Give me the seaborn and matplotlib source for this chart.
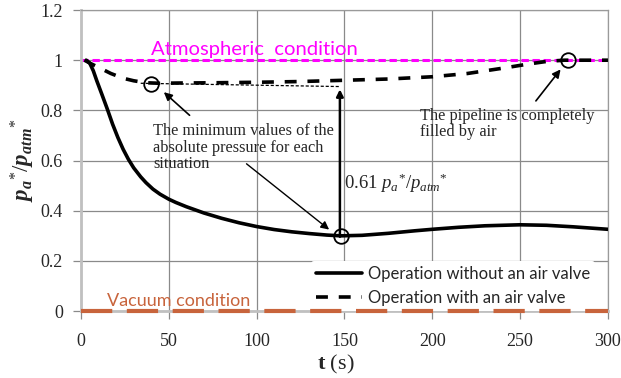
import matplotlib
matplotlib.use("Agg")
import matplotlib.pyplot as plt
import seaborn as sns
import numpy as np
import pandas as pd

# Data
t_no_valve = [3, 5, 7, 9, 12, 15, 18, 21, 24, 27, 30, 34, 37, 41, 45, 50, 54, 60, 70, 80, 90, 100,
              110, 120, 130, 140, 148, 160, 175, 190, 200, 215, 230, 250, 265, 280, 300]
p_no_valve = [1.0, 0.988, 0.958, 0.918, 0.862, 0.805, 0.745, 0.692, 0.645, 0.605, 0.571, 0.535,
              0.512, 0.486, 0.466, 0.446, 0.433, 0.416, 0.391, 0.370, 0.352, 0.337, 0.325, 0.316,
              0.309, 0.303, 0.300, 0.302, 0.31, 0.32, 0.326, 0.334, 0.34, 0.344, 0.342, 0.336, 0.326]
t_valve = [2, 6, 11, 17, 24, 30, 37, 45, 55, 75, 100, 125, 150, 175, 200, 220, 240, 255, 265, 275, 300]
p_valve = [1.0, 0.985, 0.968, 0.947, 0.928, 0.918, 0.91, 0.908, 0.909, 0.91, 0.912, 0.915, 0.92,
           0.925, 0.934, 0.947, 0.968, 0.985, 0.995, 1.0, 1.0]
x_ticks = [0, 50, 100, 150, 200, 250, 300]
y_ticks = [0, 0.2, 0.4, 0.6, 0.8, 1.0, 1.2]
y_tick_labels = ["0", "0.2", "0.4", "0.6", "0.8", "1", "1.2"]
atm_level = 1.0
vac_level = 0.0
min_valve = (40, 0.907)
min_no_valve = (148, 0.300)
filled_point = (277, 1.0)

sns.set_theme(style="white")
plt.rcParams['font.family'] = ['Liberation Serif', 'DejaVu Serif']
plt.rcParams['mathtext.fontset'] = 'custom'
plt.rcParams['mathtext.rm'] = 'Liberation Serif'
plt.rcParams['mathtext.it'] = 'Liberation Serif:italic'
plt.rcParams['mathtext.bf'] = 'Liberation Serif:italic:bold'
plt.rcParams['mathtext.sf'] = 'Liberation Serif:bold'

fig = plt.figure(figsize=(6.21, 3.78), dpi=100)
ax = fig.add_axes([0.1304, 0.177, 0.8486, 0.7965])

df1 = pd.DataFrame({"t": t_no_valve, "p": p_no_valve})
df2 = pd.DataFrame({"t": t_valve, "p": p_valve})

ax.axhline(atm_level, color="#FF00FF", lw=2.2, ls=(0, (2.4, 1.2)), zorder=2)
ax.axhline(vac_level, color="#C8643C", lw=3, ls=(0, (7.5, 3.5)), zorder=6, clip_on=False)

sns.lineplot(data=df1, x="t", y="p", ax=ax, color="black", lw=2.6,
             label="Operation without an air valve", zorder=4)
sns.lineplot(data=df2, x="t", y="p", ax=ax, color="black", lw=2.6,
             ls=(0, (3.3, 3.0)), label="Operation with an air valve", zorder=4)

ax.set_xlim(0, 300)
ax.set_ylim(0, 1.2)
ax.set_xticks(x_ticks)
ax.set_yticks(y_ticks)
ax.set_yticklabels(y_tick_labels)
ax.grid(True, color="#8a8a8a", lw=0.9)
ax.tick_params(axis="both", labelsize=13, length=6, width=0.9, color="#8a8a8a",
               direction="out", left=True, bottom=True)
ax.tick_params(axis="x", pad=10)
ax.tick_params(axis="y", pad=7)
for s in ["top", "right"]:
    ax.spines[s].set_color("#9a9a9a")
    ax.spines[s].set_linewidth(0.9)
for s in ["left", "bottom"]:
    ax.spines[s].set_color("#c0c0c0")
    ax.spines[s].set_linewidth(2)

ax.set_xlabel(r"$\mathsf{t}$ (s)", fontsize=16)
ax.xaxis.set_label_coords(0.484, -0.14)
ax.set_ylabel(r"$\mathbf{p_a}^{*}/\mathbf{p_{atm}}^{*}$", fontsize=16.5)
ax.yaxis.set_label_coords(-0.084, 0.5)

# Text labels for reference lines
ax.text(40, 1.0 + 0.02, "Atmospheric  condition", color="#FF00FF", fontsize=14.6,
        family=["Lato", "DejaVu Sans"], va="baseline", ha="left")
ax.text(15, 0.02, "Vacuum condition", color="#C8643C", fontsize=13,
        family=["Lato", "DejaVu Sans"], va="baseline", ha="left")

# Circles
for (cx, cy) in [min_valve, min_no_valve, filled_point]:
    ax.plot(cx, cy, marker="o", ms=10.5, mfc="none", mec="black", mew=1.3, zorder=6)

# Thin dashed line and vertical arrow
ax.plot([34, 147], [0.908, 0.895], color="black", lw=0.9, ls=(0, (2.5, 1.5)), zorder=5)
ax.annotate("", xy=(147.4, 0.895), xytext=(147.4, 0.285),
            arrowprops=dict(arrowstyle="-|>", color="black", lw=1.8, mutation_scale=10), zorder=5)
ax.text(150, 0.51, r"0.61 $p_a$$^{*}$/$p_{atm}$$^{*}$", fontsize=13.5, va="center", ha="left")

ax.text(41, 0.75, "The minimum values of the\nabsolute pressure for each\nsituation",
        fontsize=11.8, va="top", ha="left", linespacing=1.05)
ax.annotate("", xy=(46, 0.88), xytext=(63, 0.773),
            arrowprops=dict(arrowstyle="-|>", color="black", lw=1.2, mutation_scale=12))
ax.annotate("", xy=(142.5, 0.318), xytext=(93, 0.594),
            arrowprops=dict(arrowstyle="-|>", color="black", lw=1.0, mutation_scale=12))

ax.text(193, 0.81, "The pipeline is completely\nfilled by air", fontsize=11.8, va="top", ha="left",
        linespacing=1.05)
ax.annotate("", xy=(274, 0.972), xytext=(258, 0.829),
            arrowprops=dict(arrowstyle="-|>", color="black", lw=1.2, mutation_scale=12))

leg = ax.legend(loc="lower right", bbox_to_anchor=(0.976, 0.0), frameon=True, framealpha=1,
                facecolor="white", edgecolor="white", handlelength=2.8,
                borderaxespad=0.0, labelspacing=0.5, handletextpad=0.35, borderpad=0.3,
                prop={"family": ["Lato", "DejaVu Sans"], "size": 12})
leg.set_zorder(5)
leg.get_frame().set_linewidth(0)
for line in leg.get_lines():
    line.set_linewidth(2.6)

fig.savefig("out.png", dpi=100)
